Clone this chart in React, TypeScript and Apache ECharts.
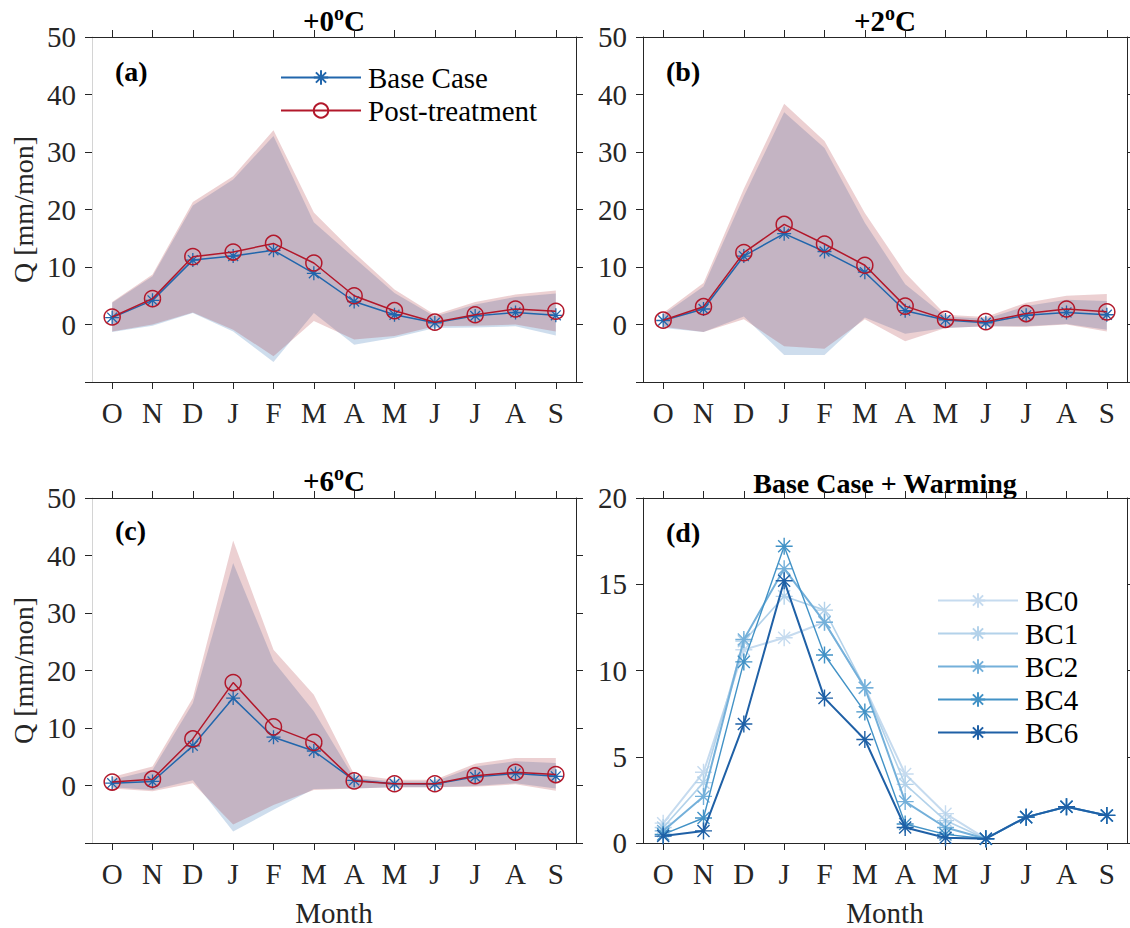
import React, { useEffect, useRef } from "react";
import * as echarts from "echarts";

const months = ["O", "N", "D", "J", "F", "M", "A", "M", "J", "J", "A", "S"];

// Panel (a) +0 C
const baseA = [1.2, 4.2, 11.2, 11.9, 12.9, 8.9, 4.0, 1.7, 0.3, 1.5, 2.1, 1.6];
const postA = [1.3, 4.5, 11.8, 12.6, 14.1, 10.7, 5.0, 2.4, 0.4, 1.7, 2.7, 2.3];
const upperBaseA = [3.8, 8.4, 20.7, 25.2, 32.8, 17.8, 11.6, 5.5, 1.4, 3.5, 4.8, 5.4];
const lowerBaseA = [-1.3, -0.2, 2.0, -1.2, -6.5, 2.0, -3.5, -2.3, -0.6, -0.5, -0.3, -1.9];
const upperPostA = [3.9, 8.7, 21.3, 25.8, 33.8, 19.5, 12.5, 6.1, 1.7, 3.9, 5.2, 5.9];
const lowerPostA = [-1.2, 0, 2.1, -0.9, -5.5, 0.6, -2.6, -2.0, -0.3, -0.2, 0, -1.2];

// Panel (b) +2 C
const baseB = [0.7, 2.7, 11.9, 15.8, 12.7, 9.1, 2.4, 0.8, 0.3, 1.6, 2.1, 1.7];
const postB = [0.75, 3.1, 12.5, 17.4, 14.0, 10.3, 3.2, 0.9, 0.5, 1.9, 2.7, 2.2];
const upperBaseB = [1.7, 6.6, 22.3, 36.9, 30.7, 17.7, 7.0, 1.4, 1.0, 3.2, 4.3, 4.1];
const lowerBaseB = [-0.6, -1.3, 1.4, -5.3, -5.3, 1.2, -1.6, -0.6, -0.3, -0.3, 0.1, -0.9];
const upperPostB = [2.0, 7.2, 23.6, 38.4, 31.9, 19.4, 9.0, 1.7, 1.3, 3.8, 5.0, 5.3];
const lowerPostB = [-0.4, -1.3, 0.9, -3.8, -4.2, 0.9, -2.9, -0.6, -0.3, -0.4, 0, -1.2];

// Panel (c) +6 C
const baseC = [0.4, 0.7, 6.9, 15.2, 8.4, 6.0, 0.9, 0.3, 0.25, 1.5, 2.1, 1.6];
const postC = [0.6, 1.1, 8.1, 17.9, 10.2, 7.5, 0.8, 0.3, 0.3, 1.7, 2.3, 1.9];
const upperBaseC = [1.0, 2.7, 14.3, 38.7, 21.6, 12.9, 1.3, 0.7, 0.7, 3.3, 4.2, 3.9];
const lowerBaseC = [-0.3, -0.8, 0.9, -8.0, -4.2, -0.6, -0.5, -0.3, -0.3, -0.1, 0.4, -0.5];
const upperPostC = [1.5, 3.3, 15.2, 42.6, 23.6, 15.8, 1.9, 1.0, 1.0, 3.8, 4.8, 4.8];
const lowerPostC = [-0.5, -1.0, 0.4, -6.8, -3.4, -0.8, -0.5, -0.3, -0.3, -0.2, 0.2, -0.9];

// Panel (d) Base Case + Warming
const bc0 = [1.15, 4.1, 11.2, 11.9, 12.8, 9.0, 4.0, 1.7, 0.25, 1.5, 2.1, 1.6];
const bc1 = [0.9, 3.5, 11.7, 14.3, 13.5, 9.0, 3.4, 1.3, 0.25, 1.5, 2.1, 1.6];
const bc2 = [0.7, 2.7, 11.8, 15.9, 12.8, 9.0, 2.4, 0.9, 0.25, 1.5, 2.1, 1.6];
const bc4 = [0.5, 1.45, 10.5, 17.2, 10.9, 7.6, 1.1, 0.5, 0.25, 1.5, 2.1, 1.6];
const bc6 = [0.4, 0.7, 6.9, 15.2, 8.4, 6.0, 0.9, 0.3, 0.25, 1.5, 2.1, 1.6];

const bcNames = ["BC0", "BC1", "BC2", "BC4", "BC6"];
const bcData = [bc0, bc1, bc2, bc4, bc6];
const bcColors = ["#c6dbef", "#b3d2ea", "#74b0da", "#4292c6", "#1f60a6"];
const bcWidths = [2, 1.6, 2, 1.4, 2];

const panelTitles = ["+0", "+2", "+6"];
const panelLetters = ["(a)", "(b)", "(c)", "(d)"];

const FONT = "'Liberation Serif', 'Times New Roman', serif";
const FS = 29;
const AX = "#262626";
const BLUE = "#2166ac";
const RED = "#b2182b";
const BLUE_FILL = "rgba(33,102,172,0.22)";
const RED_FILL = "rgba(160,20,30,0.2)";
const ASTERISK =
  "path://M10 0L10 20M0 10L20 10M2.93 2.93L17.07 17.07M2.93 17.07L17.07 2.93";

const grids = [
  { left: 92, top: 37, width: 484, height: 345 },
  { left: 643, top: 37, width: 484, height: 345 },
  { left: 92, top: 498, width: 484, height: 345 },
  { left: 643, top: 498, width: 484, height: 345 },
];

function bandSeries(g: number, upper: number[], lower: number[], fill: string, z: number) {
  return {
    type: "custom",
    xAxisIndex: 2 * g,
    yAxisIndex: 2 * g,
    silent: true,
    z,
    data: upper.map((u, i) => [i, lower[i], u]),
    renderItem: (params: any, api: any) => {
      if (params.dataIndex !== 0) return { type: "group", children: [] };
      const pts: number[][] = [];
      for (let i = 0; i < upper.length; i++) pts.push(api.coord([i, upper[i]]));
      for (let i = lower.length - 1; i >= 0; i--) pts.push(api.coord([i, lower[i]]));
      return { type: "polygon", shape: { points: pts }, style: { fill, stroke: "none" } };
    },
  };
}

export default function App() {
  const ref = useRef<HTMLDivElement>(null);
  useEffect(() => {
    if (!ref.current) return;
    const chart = echarts.init(ref.current, undefined, { renderer: "svg" });

    const xAxes: any[] = [];
    const yAxes: any[] = [];
    grids.forEach((_, g) => {
      const isBottomRow = g >= 2;
      const isLeftCol = g % 2 === 0;
      const isD = g === 3;
      xAxes.push({
        type: "category",
        gridIndex: g,
        data: months,
        position: "bottom",
        boundaryGap: true,
        axisLine: { show: true, onZero: false, lineStyle: { color: AX, width: 1 } },
        axisTick: { show: true, alignWithLabel: true, inside: false, length: 7, lineStyle: { color: AX } },
        axisLabel: { show: true, interval: 0, margin: 16, fontFamily: FONT, fontSize: FS, color: AX },
        splitLine: { show: false },
        name: isBottomRow ? "Month" : "",
        nameLocation: "middle",
        nameGap: 55,
        nameTextStyle: { fontFamily: FONT, fontSize: FS, color: AX },
      });
      xAxes.push({
        type: "category",
        gridIndex: g,
        data: months,
        position: "top",
        boundaryGap: true,
        axisLine: { show: true, onZero: false, lineStyle: { color: AX, width: 1 } },
        axisTick: { show: true, alignWithLabel: true, inside: false, length: 7, lineStyle: { color: AX } },
        axisLabel: { show: false },
        splitLine: { show: false },
      });
      const yCommon = isD
        ? { min: 0, max: 20, interval: 5 }
        : { min: -10, max: 50, interval: 10 };
      yAxes.push({
        type: "value",
        gridIndex: g,
        position: "left",
        ...yCommon,
        axisLine: { show: true, onZero: false, lineStyle: { color: isLeftCol ? "#d4d4d4" : AX, width: 1 } },
        axisTick: { show: true, inside: false, length: 7, lineStyle: { color: AX } },
        axisLabel: {
          show: true,
          margin: 16,
          fontFamily: FONT,
          fontSize: FS,
          color: AX,
          formatter: (v: number) => (v < 0 ? "" : String(v)),
        },
        splitLine: { show: false },
        name: isLeftCol ? "Q [mm/mon]" : "",
        nameLocation: "middle",
        nameRotate: 90,
        nameGap: 55,
        nameTextStyle: { fontFamily: FONT, fontSize: 28, color: AX },
      });
      yAxes.push({
        type: "value",
        gridIndex: g,
        position: "right",
        ...yCommon,
        axisLine: { show: true, onZero: false, lineStyle: { color: AX, width: 1 } },
        axisTick: { show: true, inside: false, length: 7, lineStyle: { color: AX } },
        axisLabel: { show: false },
        splitLine: { show: false },
      });
    });

    const series: any[] = [];
    const panelData = [
      { base: baseA, post: postA, ub: upperBaseA, lb: lowerBaseA, up: upperPostA, lp: lowerPostA },
      { base: baseB, post: postB, ub: upperBaseB, lb: lowerBaseB, up: upperPostB, lp: lowerPostB },
      { base: baseC, post: postC, ub: upperBaseC, lb: lowerBaseC, up: upperPostC, lp: lowerPostC },
    ];
    panelData.forEach((p, g) => {
      series.push(bandSeries(g, p.ub, p.lb, BLUE_FILL, 1));
      series.push(bandSeries(g, p.up, p.lp, RED_FILL, 2));
      series.push({
        type: "line",
        name: "Base Case",
        xAxisIndex: 2 * g,
        yAxisIndex: 2 * g,
        data: p.base,
        z: 3,
        symbol: ASTERISK,
        symbolKeepAspect: true,
        symbolSize: 14,
        showAllSymbol: true,
        lineStyle: { color: BLUE, width: 1.5 },
        itemStyle: { color: BLUE, borderColor: BLUE, borderWidth: 1.3 },
      });
      series.push({
        type: "line",
        name: "Post-treatment",
        xAxisIndex: 2 * g,
        yAxisIndex: 2 * g,
        data: p.post,
        z: 4,
        symbol: "circle",
        symbolSize: 16,
        showAllSymbol: true,
        lineStyle: { color: RED, width: 1.5 },
        itemStyle: { color: "rgba(0,0,0,0)", borderColor: RED, borderWidth: 1.5 },
      });
    });
    bcData.forEach((d, k) => {
      series.push({
        type: "line",
        name: bcNames[k],
        xAxisIndex: 6,
        yAxisIndex: 6,
        data: d,
        z: 3 + k,
        symbol: ASTERISK,
        symbolKeepAspect: true,
        symbolSize: 17,
        showAllSymbol: true,
        lineStyle: { color: bcColors[k], width: bcWidths[k] },
        itemStyle: { color: bcColors[k], borderColor: bcColors[k], borderWidth: 1.4 },
      });
    });

    const titleText = (x: number, y: number, t: string) => ({
      type: "text",
      x,
      y,
      style: {
        text: `{n|${t}}{s|o}{n|C}`,
        textAlign: "center",
        textVerticalAlign: "middle",
        rich: {
          n: { fontFamily: FONT, fontSize: 29, fontWeight: "bold", color: "#000", lineHeight: 30, verticalAlign: "bottom" },
          s: { fontFamily: FONT, fontSize: 20, fontWeight: "bold", color: "#000", lineHeight: 30, verticalAlign: "bottom", padding: [0, 0, 12, 0] },
        },
      },
    });
    const letterPos = [
      [115, 71],
      [666, 71],
      [115, 530],
      [666, 532],
    ];
    const graphic: any[] = [
      titleText(334, 20, panelTitles[0]),
      titleText(885, 20, panelTitles[1]),
      titleText(334, 480, panelTitles[2]),
      {
        type: "text",
        x: 885,
        y: 483,
        style: {
          text: "Base Case + Warming",
          textAlign: "center",
          textVerticalAlign: "middle",
          fontFamily: FONT,
          fontSize: 28,
          fontWeight: "bold",
          fill: "#000",
        },
      },
      ...panelLetters.map((l, i) => ({
        type: "text",
        x: letterPos[i][0],
        y: letterPos[i][1],
        style: {
          text: l,
          textAlign: "left",
          textVerticalAlign: "middle",
          fontFamily: FONT,
          fontSize: 28,
          fontWeight: "bold",
          fill: "#000",
        },
      })),
    ];

    chart.setOption({
      animation: false,
      backgroundColor: "#fff",
      grid: grids.map((g) => ({ ...g, containLabel: false })),
      xAxis: xAxes,
      yAxis: yAxes,
      legend: [
        {
          data: ["Base Case", "Post-treatment"],
          orient: "vertical",
          left: 280,
          top: 63,
          padding: 0,
          itemGap: 4,
          itemWidth: 80,
          itemHeight: 18,
          selectedMode: false,
          textStyle: { fontFamily: FONT, fontSize: FS, color: "#000", padding: [0, 0, 0, 2] },
        },
        {
          data: bcNames,
          orient: "vertical",
          left: 937,
          top: 586,
          padding: 0,
          itemGap: 4,
          itemWidth: 80,
          itemHeight: 18,
          selectedMode: false,
          textStyle: { fontFamily: FONT, fontSize: FS, color: "#000", padding: [0, 0, 0, 2] },
        },
      ],
      graphic,
      series,
    });
    return () => chart.dispose();
  }, []);
  return (
    <div
      ref={ref}
      style={{ position: "absolute", left: 0, top: 0, width: 1130, height: 928, background: "#fff" }}
    />
  );
}
